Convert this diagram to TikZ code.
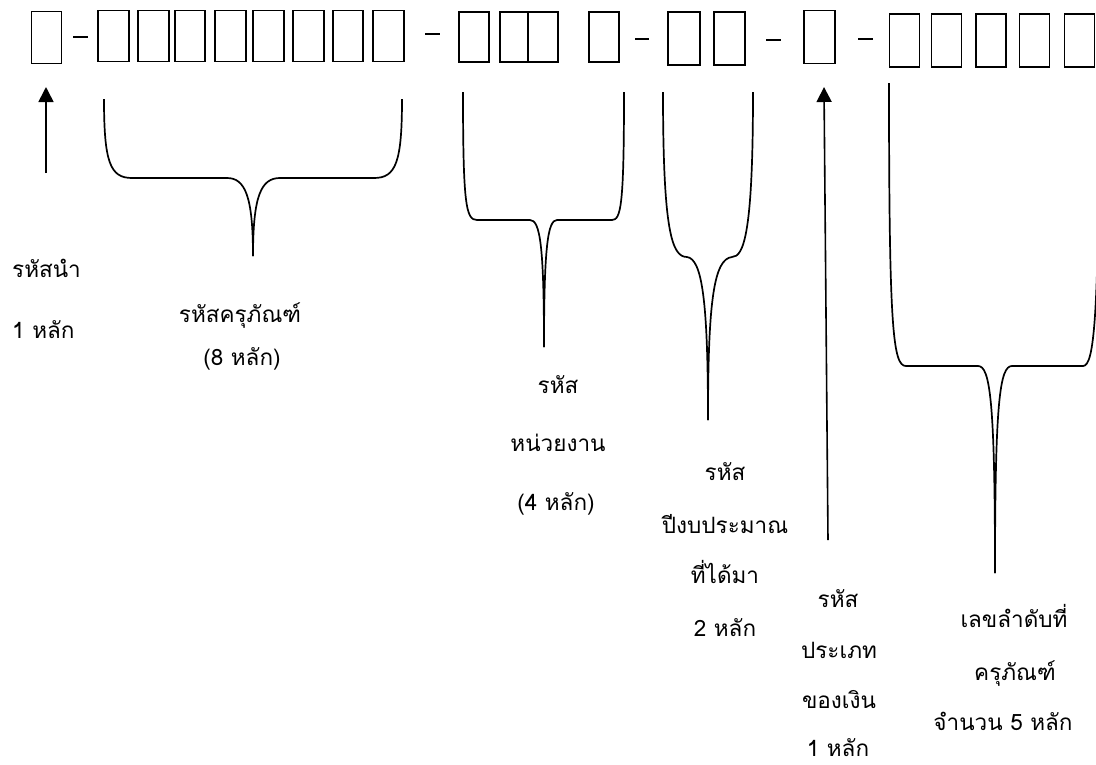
\documentclass[tikz,border=0pt]{standalone}
\usepackage{fontspec}
\newfontfamily\thaifont[Script=Thai]{Loma}
\usetikzlibrary{arrows.meta}
\begin{document}
\begin{tikzpicture}[x=1pt,y=-1pt,
  box/.style={draw, line width=1.5pt, inner sep=0pt, minimum width=#1},
  dsh/.style={line width=1.5pt},
  brc/.style={line width=1.7pt, line join=round},
  arr/.style={line width=1.6pt, -{Triangle[length=15pt,width=15pt]}},
  lbl/.style={anchor=base, inner sep=0pt, font=\thaifont\fontsize{22.5}{27}\selectfont},
  lblw/.style={anchor=base west, inner sep=0pt, font=\thaifont\fontsize{22.5}{27}\selectfont}]
\useasboundingbox (0,0) rectangle (1096,764);
% ---- top row of boxes ----
\node[box=30pt, minimum height=52pt] (b1) at (46.5,37.5) {};
\draw[dsh] (73,37) -- (88,37);
\foreach \cx/\w [count=\i from 2] in {113.25/31,153.5/31,190/30,230.5/31,268.5/31,308.5/31,348/30,388.5/31}
  \node[box=\w pt, minimum height=51pt] (b\i) at (\cx,36) {};
\draw[dsh] (425,34) -- (440,34);
\node[box=30pt, minimum height=50pt] (b10) at (474,37) {};
\node[box=28pt, minimum height=50pt] (b11) at (514,37) {};
\node[box=30pt, minimum height=50pt] (b12) at (543,37) {};
\node[box=30pt, minimum height=50pt] (b13) at (604,37) {};
\draw[dsh] (635,39) -- (649,39);
\node[box=32pt, minimum height=53pt] (b14) at (684,38.5) {};
\node[box=31pt, minimum height=53pt] (b15) at (729.5,38.5) {};
\draw[dsh] (766,40) -- (781,40);
\node[box=31pt, minimum height=53pt] (b16) at (819.5,37) {};
\draw[dsh] (858,39) -- (873,39);
\foreach \cx [count=\i from 17] in {904.5,946.5,991,1034.5,1079.5}
  \node[box=30pt, minimum height=53pt] (b\i) at (\cx,40.5) {};
% ---- arrows ----
\coordinate (a1s) at (46,173);
\coordinate (a1e) at (46,87);
\draw[arr] (a1s) -- (a1e);
\coordinate (a2s) at (828,540);
\coordinate (a2e) at (824,87);
\draw[arr] (a2s) -- (a2e);
% ---- braces ----
% brace 1
\draw[brc] (104,99) .. controls (104,162) and (110,178) .. (132,178) -- (227,178)
  .. controls (245,178) and (253,196) .. (253,256);
\draw[brc] (402,99) .. controls (402,162) and (396,178) .. (374,178) -- (280,178)
  .. controls (261,178) and (253,196) .. (253,256);
% brace 2
\draw[brc] (463,92) .. controls (463,205) and (466,220) .. (477,220) -- (530,220)
  .. controls (540,220) and (544,245) .. (544,347);
\draw[brc] (624,92) .. controls (624,205) and (621,220) .. (612,220) -- (557,220)
  .. controls (548,220) and (544,245) .. (544,347);
% brace 3
\draw[brc] (663,92) .. controls (663,232) and (672,257) .. (687,257)
  .. controls (702,259) and (708,300) .. (708,420);
\draw[brc] (753,92) .. controls (753,232) and (744,257) .. (732,257)
  .. controls (714,259) and (708,300) .. (708,420);
% brace 4 (right side runs off the page)
\begin{scope}
\clip (0,0) rectangle (1096,764);
\draw[brc] (889,83) .. controls (889,330) and (893,366) .. (906,366) -- (978,366)
  .. controls (990,366) and (995,400) .. (995,573);
\draw[brc] (1099,83) .. controls (1099,320) and (1094,366) .. (1083,366) -- (1012,366)
  .. controls (1000,366) and (995,400) .. (995,573);
\end{scope}
% ---- labels ----
\node[lblw] (t1a) at (12,277) {รหัสนำ};
\node[lblw] (t1b) at (12,338) {1 หลัก};
\node[lbl] (t2a) at (240,322) {รหัสครุภัณฑ์};
\node[lbl] (t2b) at (242,365) {(8 หลัก)};
\node[lbl] (t3a) at (558,393) {รหัส};
\node[lbl] (t3b) at (558,451) {หน่วยงาน};
\node[lbl] (t3c) at (556,510) {(4 หลัก)};
\node[lbl] (t4a) at (725,480) {รหัส};
\node[lbl] (t4b) at (725,533) {ปีงบประมาณ};
\node[lbl] (t4c) at (725,583) {ที่ได้มา};
\node[lbl] (t4d) at (725,636) {2 หลัก};
\node[lbl] (t5a) at (838,607) {รหัส};
\node[lbl] (t5b) at (839,658) {ประเภท};
\node[lbl] (t5c) at (839,708) {ของเงิน};
\node[lbl] (t5d) at (838,756) {1 หลัก};
\node[lbl] (t6a) at (1014,627) {เลขลำดับที่};
\node[lbl] (t6b) at (1015,680) {ครุภัณฑ์};
\node[lbl] (t6c) at (1003,730) {จำนวน 5 หลัก};
\end{tikzpicture}
\end{document}
